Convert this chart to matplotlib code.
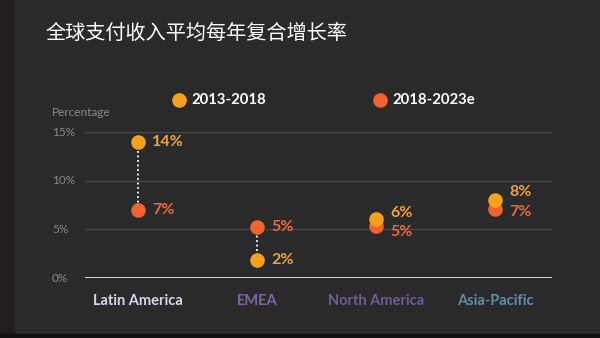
import matplotlib
matplotlib.use("Agg")
import matplotlib.pyplot as plt
from matplotlib.patches import Rectangle
from matplotlib.transforms import offset_copy

categories = ["Latin America", "EMEA", "North America", "Asia-Pacific"]
series_names = ["2013-2018", "2018-2023e"]
vals_2013 = [14.0, 1.9, 6.1, 8.0]
vals_2018 = [7.0, 5.2, 5.3, 7.1]
labels_2013 = ["14%", "2%", "6%", "8%"]
labels_2018 = ["7%", "5%", "5%", "7%"]
yticks = [0, 5, 10, 15]
ytick_labels = ["0%", "5%", "10%", "15%"]
title = "全球支付收入平均每年复合增长率"

BG = "#2a2a2a"
ORANGE = "#f5a11b"
RED = "#f06432"
ORANGE_TXT = "#eea23c"
RED_TXT = "#ec6a3e"
cat_colors = ["#dcd4ec", "#7d66a6", "#6e5e96", "#5f8ea6"]

fig = plt.figure(figsize=(6, 3.38), dpi=100, facecolor=BG)
fig.patches.append(Rectangle((0, 0), 14/600, 1, transform=fig.transFigure, color="#201d1f", zorder=0))
fig.patches.append(Rectangle((0, 0), 1, 4/338, transform=fig.transFigure, color="#111111", zorder=0))

ax = fig.add_axes([85/600, (338-278)/338, (552-85)/600, (278-132)/338])
ax.set_facecolor(BG)
ax.patch.set_alpha(0)
ax.set_xlim(-0.445, 3.479)
ax.set_ylim(0, 15)
for s in ax.spines.values():
    s.set_visible(False)
ax.set_xticks([])
ax.set_yticks([])

for yt in yticks[1:]:
    ax.axhline(yt, color="#474747", lw=1, zorder=1)
ax.axhline(0, color="#e8e8e8", lw=2, zorder=2)

for yt, lab in zip(yticks, ytick_labels):
    ax.text(-0.445 - 33/119, yt, lab, color="#8a8a8a", fontsize=8.5, family="Lato",
            ha="left", va="center")
ax.text(-0.445 - 33/119, 15 + 19/9.73, "Percentage", color="#8a8a8a", fontsize=8.5,
        family="Lato", ha="left", va="center")

xs = list(range(len(categories)))
for x, a, b in zip(xs, vals_2013, vals_2018):
    ax.plot([x, x], [a, b], color="white", lw=1.3, ls=(0, (1, 1.5)), zorder=3)
ax.scatter(xs, vals_2018, s=110, color=RED, zorder=4, linewidths=0)
ax.scatter(xs, vals_2013, s=110, color=ORANGE, zorder=5, linewidths=0)

off_2013 = [(14, 0), (14, 0), (14, 6), (14, 8)]
off_2018 = [(14, 0), (14, 0), (14, -6), (14, -3)]
for x, v, lab, (dx, dy) in zip(xs, vals_2013, labels_2013, off_2013):
    tr = offset_copy(ax.transData, fig=fig, x=dx, y=dy, units="dots")
    ax.text(x, v, lab, transform=tr, color=ORANGE_TXT, fontsize=11.5, family="Lato",
            fontweight="bold", ha="left", va="center", zorder=6)
for x, v, lab, (dx, dy) in zip(xs, vals_2018, labels_2018, off_2018):
    tr = offset_copy(ax.transData, fig=fig, x=dx, y=dy, units="dots")
    ax.text(x, v, lab, transform=tr, color=RED_TXT, fontsize=11.5, family="Lato",
            fontweight="bold", ha="left", va="center", zorder=6)

for x, c, col in zip(xs, categories, cat_colors):
    tr = offset_copy(ax.transData, fig=fig, x=0, y=-23, units="dots")
    ax.text(x, 0, c, transform=tr, color=col, fontsize=10.5, family="Lato",
            fontweight="bold", ha="center", va="center")

leg_y = 1 - 100/338
for px, name, col in [(179, series_names[0], ORANGE), (380, series_names[1], RED)]:
    fig.lines.append(plt.Line2D([px/600], [leg_y], marker="o", markersize=10.5, color=col,
                                transform=fig.transFigure, markeredgewidth=0))
    fig.text((px + 12)/600, leg_y, name, color="white", fontsize=10.7, family="Lato",
             fontweight="bold", ha="left", va="center")

fig.text(45/600, 1 - 33/338, title, color="white", fontsize=14.5,
         family=["Noto Sans CJK SC", "DejaVu Sans"], ha="left", va="center")

fig.savefig("out.png", dpi=100, facecolor=BG)
